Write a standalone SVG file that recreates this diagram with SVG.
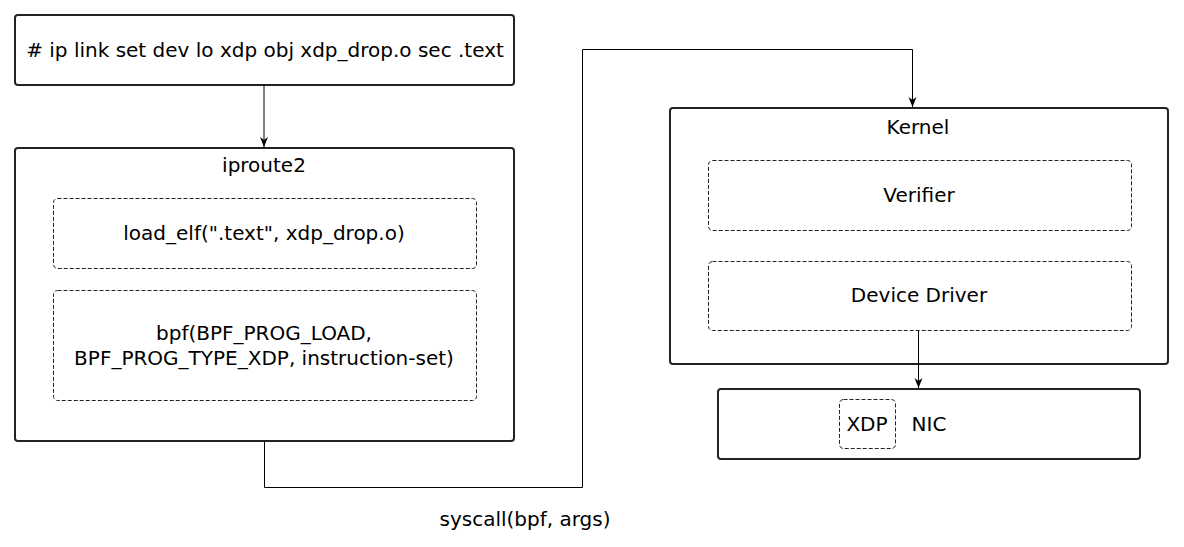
<svg xmlns="http://www.w3.org/2000/svg" width="1184" height="547" viewBox="0 0 1184 547">
<style>
text{font-family:"DejaVu Sans",sans-serif;font-size:20px;fill:#000;text-anchor:middle}
.box{fill:#fff;stroke:#222;stroke-width:2}
.dash{fill:none;stroke:#222;stroke-width:1;stroke-dasharray:4 2}
.conn{fill:none;stroke:#000;stroke-width:1}
</style>
<defs>
<marker id="arr" viewBox="0 0 10 10" refX="10" refY="5" markerWidth="10" markerHeight="10" markerUnits="userSpaceOnUse" orient="auto">
<path d="M0,1 L10,5 L0,9 L3,5 z" fill="#000"/>
</marker>
</defs>
<rect width="1184" height="547" fill="#fff"/>
<g id="cmd">
<rect class="box" x="15" y="15" width="499" height="70" rx="3"/>
<text x="265" y="57"># ip link set dev lo xdp obj xdp_drop.o sec .text</text>
</g>
<g id="iproute2">
<rect class="box" x="15" y="148" width="499" height="293" rx="3"/>
<text x="264" y="172">iproute2</text>
<g id="load_elf">
<rect class="dash" x="53.5" y="198.5" width="423" height="70" rx="4"/>
<text x="264" y="240">load_elf(".text", xdp_drop.o)</text>
</g>
<g id="bpf">
<rect class="dash" x="53.5" y="290.5" width="423" height="110" rx="4"/>
<text x="264" y="340">bpf(BPF_PROG_LOAD,</text>
<text x="264" y="365">BPF_PROG_TYPE_XDP, instruction-set)</text>
</g>
</g>
<g id="kernel">
<rect class="box" x="670" y="108" width="498" height="256" rx="3"/>
<text x="918" y="134">Kernel</text>
<g id="verifier">
<rect class="dash" x="708.5" y="160.5" width="423" height="70" rx="4"/>
<text x="919" y="202">Verifier</text>
</g>
<g id="driver">
<rect class="dash" x="708.5" y="261.5" width="423" height="69" rx="4"/>
<text x="919" y="302">Device Driver</text>
</g>
</g>
<g id="nic">
<rect class="box" x="718" y="389" width="422" height="70" rx="3"/>
<g id="xdp">
<rect class="dash" x="839.5" y="399.5" width="56" height="49" rx="4"/>
<text x="867" y="431">XDP</text>
</g>
<text x="929" y="431">NIC</text>
</g>
<g id="connectors">
<path class="conn" d="M264,85 V147" marker-end="url(#arr)"/>
<path class="conn" d="M264.5,441 V487.5 H582.5 V49.5 H912.5 V107" marker-end="url(#arr)"/>
<path class="conn" d="M918.5,331 V388" marker-end="url(#arr)"/>
</g>
<text id="syscall-label" x="525" y="526">syscall(bpf, args)</text>
</svg>
